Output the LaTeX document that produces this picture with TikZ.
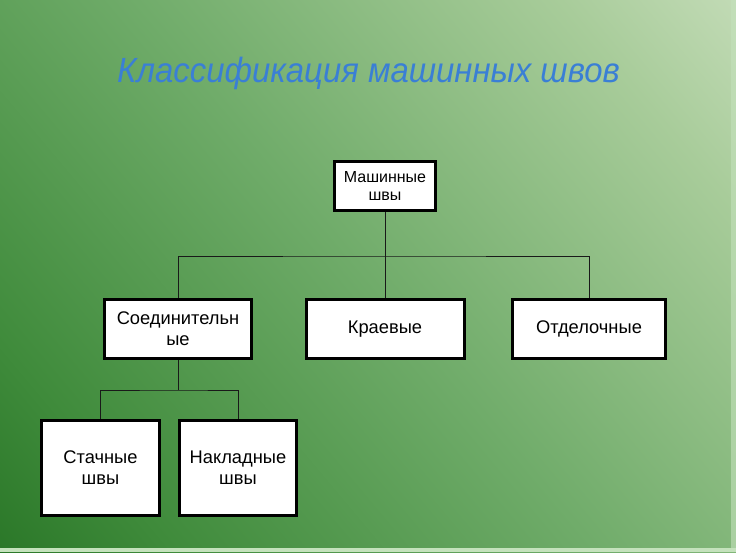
\documentclass[tikz,border=0pt]{standalone}
\usepackage{fontspec}
\setmainfont{Liberation Sans}
\usetikzlibrary{positioning}
\definecolor{bgA}{HTML}{0E5C0E}
\definecolor{bgB}{HTML}{3F8B3B}
\definecolor{bgC}{HTML}{70AC6A}
\definecolor{bgD}{HTML}{A8CC9A}
\definecolor{bgE}{HTML}{E6EFDC}
\definecolor{edge}{HTML}{C4E2BC}
\definecolor{titleblue}{HTML}{3A7FD5}
\pgfdeclarehorizontalshading{bgshade}{100bp}{color(0bp)=(bgA); color(25bp)=(bgB); color(50bp)=(bgC); color(75bp)=(bgD); color(100bp)=(bgE)}
\tikzset{
  box/.style={draw=black, line width=3pt, fill=white, align=center, inner sep=2pt, text=black},
  bigtxt/.style={font=\fontsize{18.3}{21}\selectfont},
  smalltxt/.style={font=\fontsize{16}{18.4}\selectfont},
  conn/.style={draw=black!90, line width=1pt}
}
\begin{document}
\begin{tikzpicture}[x=1pt,y=-1pt]
\useasboundingbox (0,0) rectangle (736,552);
\shade[shading=bgshade, shading angle=40] (0,0) rectangle (736,552);
\fill[edge] (0,548) rectangle (736,552);
\fill[edge, opacity=0.6] (731,0) rectangle (736,552);
\node[text=titleblue, font=\fontsize{35}{40}\selectfont\itshape] (title) at (368.5,73) {\scalebox{0.94}[1]{Классификация машинных швов}};
\node[box, smalltxt, minimum width=101pt, minimum height=49pt] (m) at (385,186) {Машинные\\швы};
\node[box, bigtxt, minimum width=147pt, minimum height=59pt] (s) at (178,329) {Соединительн\\ые};
\node[box, bigtxt, minimum width=158pt, minimum height=59pt] (k) at (385,329) {Краевые};
\node[box, bigtxt, minimum width=153pt, minimum height=59pt] (o) at (589,329) {Отделочные};
\node[box, bigtxt, minimum width=118pt, minimum height=95pt] (st) at (100.5,468) {Стачные\\швы};
\node[box, bigtxt, minimum width=117pt, minimum height=95pt] (n) at (238,468) {Накладные\\швы};
\coordinate (b1) at (385,256);
\coordinate (b2) at (178,390);
\draw[conn] (m.south) -- (b1);
\draw[conn] (s.north) |- (b1) -| (o.north);
\draw[conn] (b1) -- (k.north);
\draw[conn] (s.south) -- (b2);
\draw[conn] (st.north) |- (b2) -| (n.north);
\end{tikzpicture}
\end{document}
